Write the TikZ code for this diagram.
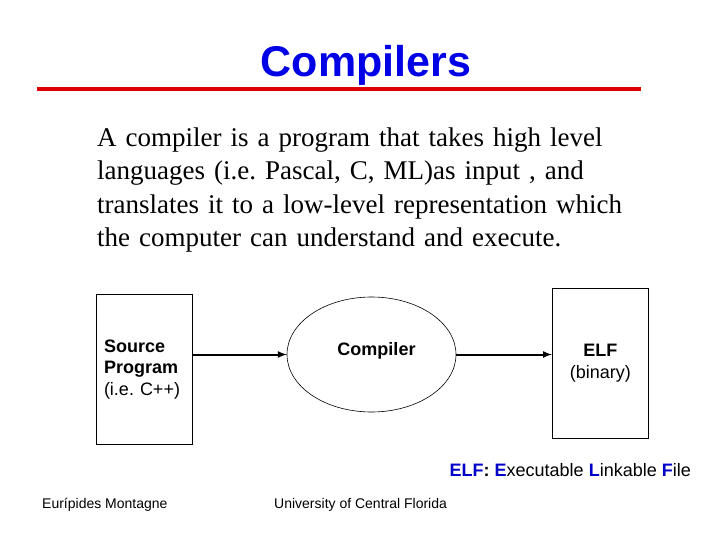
\documentclass[tikz,border=0pt]{standalone}
\usepackage{fontspec}
\setmainfont{Liberation Serif}
\setsansfont{Liberation Sans}
\usetikzlibrary{shapes.geometric}
\definecolor{titleblue}{RGB}{0,0,230}
\definecolor{elfblue}{RGB}{0,0,200}
\definecolor{rulered}{RGB}{222,0,0}
\frenchspacing

\begin{document}
\begin{tikzpicture}[x=1pt,y=-1pt,
	box/.style={draw,line width=0.8pt,minimum width=96pt,minimum height=150pt,inner sep=0pt,font=\sffamily\fontsize{18}{21.5}\selectfont},
	flow/.style={line width=2pt,-latex},
	foot/.style={anchor=base west,inner sep=0pt,font=\sffamily\fontsize{14}{16}\selectfont}]
				\useasboundingbox[fill=white] (0,0) rectangle (720,540);
				\node[anchor=base,inner sep=0pt,text=titleblue,font=\sffamily\bfseries\fontsize{43}{46}\selectfont] (title) at (366,77) {Compilers};
				\draw[rulered,line width=4pt] (37,89) -- (641,89);
				\node[anchor=base west,inner sep=0pt,text width=600pt,align=left,font=\fontsize{27}{33.3}\selectfont] (intro) at (97,146.7)
					{A compiler is a program that takes high level\\ languages (i.e. Pascal, C, ML)as input , and\\ translates it to a low-level representation which\\ the computer can understand and execute.};
				\node[box,text width=81pt,align=left,inner xsep=7.5pt] (src) at (144.5,369.3) {\textbf{Source}\\ \textbf{Program}\\ (i.e. C++)};
				\node[draw,ellipse,line width=0.6pt,minimum width=169pt,minimum height=115pt,inner sep=0pt,
					label={[xshift=5pt,yshift=4pt,font=\sffamily\bfseries\fontsize{18}{21.5}\selectfont]center:Compiler}] (comp) at (371.5,354.5) {};
				\node[box,align=center] (elf) at (600.3,363.3) {\textbf{ELF}\\ (binary)};
				\draw[flow] (src.east |- comp.west) -- (comp.west);
				\draw[flow] (comp.east) -- (comp.east -| elf.west);
				\node[anchor=base east,inner sep=0pt,font=\sffamily\fontsize{18}{21.5}\selectfont] (legend) at (691,476)
					{\textcolor{elfblue}{\textbf{ELF}}\textbf{:} \textcolor{elfblue}{\textbf{E}}xecutable \textcolor{elfblue}{\textbf{L}}inkable \textcolor{elfblue}{\textbf{F}}ile};
				\node[foot] (author) at (42,508) {Eurípides Montagne};
				\node[foot] (univ) at (274,508) {University of Central Florida};
\end{tikzpicture}
\end{document}
